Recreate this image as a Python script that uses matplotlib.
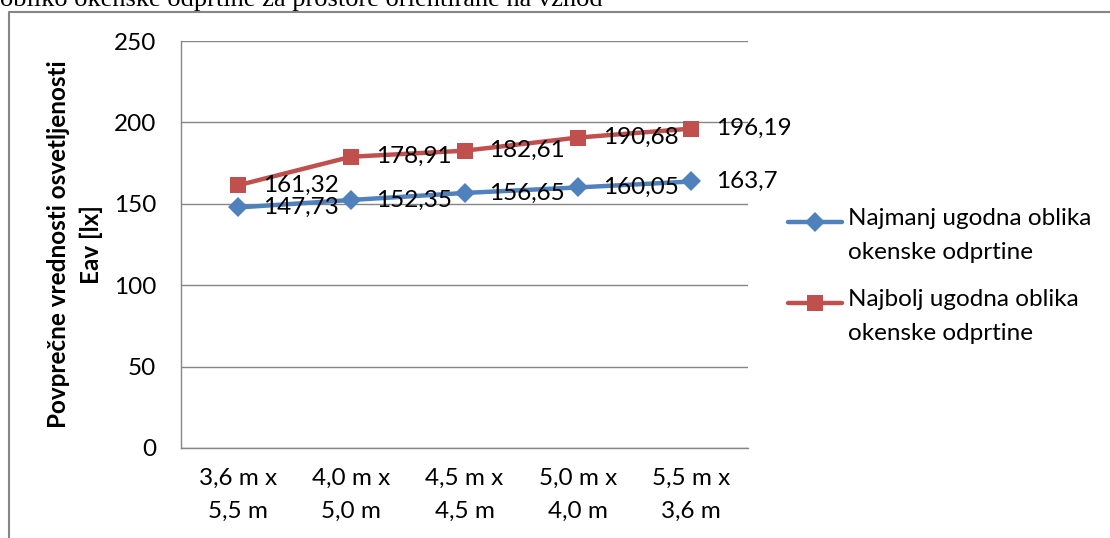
import matplotlib
matplotlib.use("Agg")
import matplotlib.pyplot as plt
from matplotlib.lines import Line2D

# Data
categories = ["3,6 m x\n5,5 m", "4,0 m x\n5,0 m", "4,5 m x\n4,5 m",
              "5,0 m x\n4,0 m", "5,5 m x\n3,6 m"]
least_favourable = [147.73, 152.35, 156.65, 160.05, 163.7]
most_favourable = [161.32, 178.91, 182.61, 190.68, 196.19]
series_names = ["Najmanj ugodna oblika\nokenske odprtine",
                "Najbolj ugodna oblika\nokenske odprtine"]
y_ticks = [0, 50, 100, 150, 200, 250]
y_label = "Povprečne vrednosti osvetljenosti\nEav [lx]"
caption = "obliko okenske odprtine za prostore orientirane na vzhod"

BLUE = "#4F81BD"
RED = "#C0504D"
GRID = "#868686"
FONT = "Lato"
FS = 17.5

W, H = 1110, 538
fig = plt.figure(figsize=(W / 100, H / 100), dpi=100)


def fx(px):
    return px / W


def fy(py):
    return 1 - py / H


ax = fig.add_axes([fx(181), fy(448), fx(748) - fx(181), fy(41) - fy(448)])
x = list(range(len(categories)))

ax.plot(x, least_favourable, color=BLUE, lw=3.2, marker="D", ms=10,
        markeredgewidth=0, zorder=3, solid_capstyle="round")
ax.plot(x, most_favourable, color=RED, lw=3.2, marker="s", ms=12,
        markeredgewidth=0, zorder=3, solid_capstyle="round")

for series in (least_favourable, most_favourable):
    for xi, v in zip(x, series):
        ax.annotate(f"{v:g}".replace(".", ","), (xi, v), xytext=(18, 0),
                    textcoords="offset points", ha="left", va="center",
                    fontsize=FS, family=FONT, color="black", zorder=4)

ax.set_xlim(-0.5, len(categories) - 0.5)
ax.set_ylim(0, 250)
ax.set_yticks(y_ticks)
ax.set_xticks(x)
ax.set_xticklabels(categories, linespacing=1.75)
ax.yaxis.grid(True, color=GRID, lw=1)
ax.set_axisbelow(True)
for side in ("top", "right"):
    ax.spines[side].set_visible(False)
for side in ("left", "bottom"):
    ax.spines[side].set_color(GRID)
    ax.spines[side].set_linewidth(1)
ax.tick_params(axis="y", length=0, pad=18, labelsize=FS)
ax.tick_params(axis="x", length=0, pad=14, labelsize=FS)
for lbl in ax.get_xticklabels() + ax.get_yticklabels():
    lbl.set_family(FONT)

ax.set_ylabel(y_label, fontsize=FS, family=FONT, fontweight="bold",
              linespacing=1.45, labelpad=8)

# Legend drawn beside the plot
legend_rows = [(222, BLUE, "D", 10, series_names[0]),
               (303, RED, "s", 12, series_names[1])]
for y, col, mk, ms, name in legend_rows:
    fig.add_artist(Line2D([fx(788), fx(842)], [fy(y), fy(y)], color=col,
                          lw=3.2, solid_capstyle="round"))
    fig.add_artist(Line2D([fx(815)], [fy(y)], color=col, marker=mk, ms=ms,
                          markeredgewidth=0, lw=0))
    fig.text(fx(848), fy(y - 14), name, ha="left", va="top", fontsize=FS,
             family=FONT, linespacing=1.75)

# Outer frame and caption
fig.add_artist(Line2D([fx(8.5), fx(8.5), fx(1110)], [fy(538), fy(11.5), fy(11.5)],
                      color=GRID, lw=1.5))
fig.text(0, fy(6), caption, ha="left", va="baseline", fontsize=19,
         family="Liberation Serif")

fig.savefig("out.png", dpi=100)
